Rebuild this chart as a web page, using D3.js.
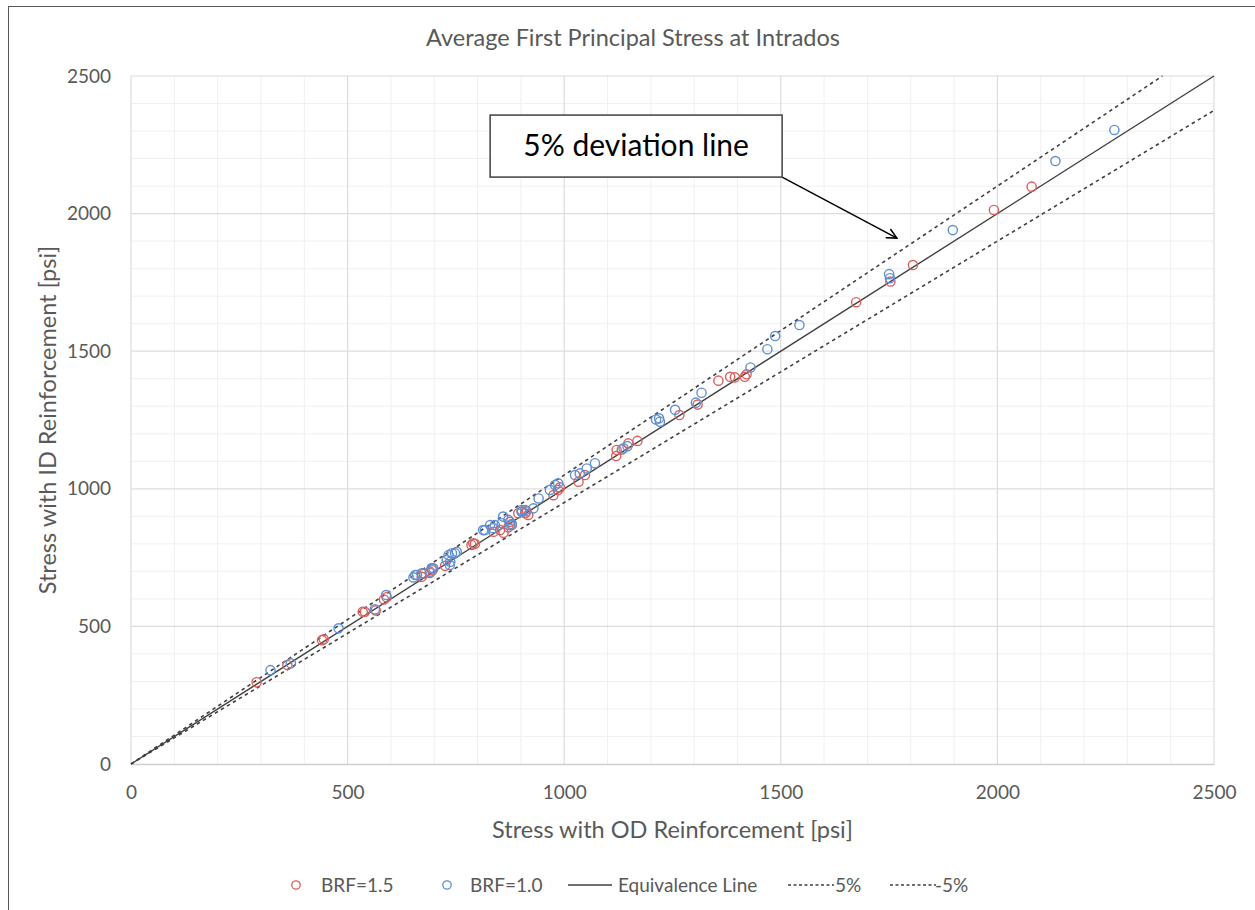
<!DOCTYPE html>
<html>
<head>
<meta charset="utf-8">
<script src="https://cdn.jsdelivr.net/npm/d3@7"></script>
<style>
  html, body { margin: 0; padding: 0; background: #fff; }
  svg { display: block; font-family: Lato, "Open Sans", sans-serif; }
</style>
</head>
<body>
<svg id="chart" width="1255" height="910"></svg>
<script>
// Average first principal stress at intrados: OD vs ID reinforcement [psi]
const chartTitle = "Average First Principal Stress at Intrados";
const xTitle = "Stress with OD Reinforcement [psi]";
const yTitle = "Stress with ID Reinforcement [psi]";
const tickValues = [0, 500, 1000, 1500, 2000, 2500];
const deviation = 0.05;

// [OD stress, ID stress] pairs, BRF = 1.5
const brf15 = [
  [290,297],[361,360],[441,450],[445,453],[535,553],[540,553],[565,558],[584,598],[590,606],
  [671,680],[676,692],[690,694],[696,704],[725,720],[786,796],[790,802],[794,800],[837,844],
  [852,850],[860,840],[871,860],[875,880],[879,868],[894,911],[902,917],[910,911],[913,918],
  [917,905],[975,977],[986,996],[990,1005],[1033,1026],[1048,1050],[1120,1119],[1121,1141],
  [1133,1143],[1148,1165],[1169,1174],[1266,1268],[1308,1306],[1356,1393],[1383,1407],
  [1394,1405],[1417,1407],[1421,1416],[1674,1678],[1753,1753],[1805,1813],[1992,2013],[2079,2098]
];

// [OD stress, ID stress] pairs, BRF = 1.0
const brf10 = [
  [322,341],[369,366],[479,493],[563,562],[589,614],[652,678],[656,687],[660,687],[671,693],
  [690,699],[694,711],[698,711],[729,741],[733,759],[737,735],[736,723],[741,766],[748,766],
  [752,771],[813,850],[817,850],[829,868],[836,857],[840,868],[856,875],[859,899],[871,887],
  [875,868],[879,872],[902,917],[902,923],[910,923],[929,929],[941,965],[967,996],[979,1014],
  [986,1020],[1025,1050],[1036,1056],[1052,1074],[1071,1093],[1137,1147],[1146,1155],
  [1212,1252],[1221,1244],[1219,1256],[1256,1287],[1304,1313],[1317,1349],[1430,1441],
  [1469,1507],[1487,1555],[1543,1595],[1750,1780],[1752,1765],[1897,1940],[2134,2191],[2270,2304]
];

const legendItems = ["BRF=1.5", "BRF=1.0", "Equivalence Line", "5%", "-5%"];

const RED = "#d9605c", BLUE = "#5e8fd3", INK = "#404040", LABEL = "#595959";

const svg = d3.select("#chart");
const plot = { left: 131, right: 1214, top: 76, bottom: 764 };

const x = d3.scaleLinear().domain([0, 2500]).range([plot.left, plot.right]);
const y = d3.scaleLinear().domain([0, 2500]).range([plot.bottom, plot.top]);

// outer frame
svg.append("rect").attr("x", 8.5).attr("y", 6.5).attr("width", 1260).attr("height", 930)
  .attr("fill", "none").attr("stroke", "#595959").attr("stroke-width", 1);

// minor and major grid
const minor = d3.range(100, 2501, 100).filter(v => v % 500 !== 0);
const grid = svg.append("g");
grid.selectAll(".vmin").data(minor).join("line")
  .attr("x1", d => x(d)).attr("x2", d => x(d)).attr("y1", plot.top).attr("y2", plot.bottom)
  .attr("stroke", "#f0f0f0").attr("stroke-width", 1);
grid.selectAll(".hmin").data(minor).join("line")
  .attr("y1", d => y(d)).attr("y2", d => y(d)).attr("x1", plot.left).attr("x2", plot.right)
  .attr("stroke", "#f0f0f0").attr("stroke-width", 1);
grid.selectAll(".vmaj").data(tickValues).join("line")
  .attr("x1", d => x(d)).attr("x2", d => x(d)).attr("y1", plot.top).attr("y2", plot.bottom)
  .attr("stroke", "#dcdcdc").attr("stroke-width", 1.2);
grid.selectAll(".hmaj").data(tickValues.slice(1)).join("line")
  .attr("y1", d => y(d)).attr("y2", d => y(d)).attr("x1", plot.left).attr("x2", plot.right)
  .attr("stroke", "#dcdcdc").attr("stroke-width", 1.2);

// axes
const xAxis = svg.append("g").attr("transform", `translate(0,${plot.bottom})`)
  .call(d3.axisBottom(x).tickValues(tickValues).tickSize(0).tickPadding(22).tickFormat(d3.format("d")));
const yAxis = svg.append("g").attr("transform", `translate(${plot.left},0)`)
  .call(d3.axisLeft(y).tickValues(tickValues).tickSize(0).tickPadding(20).tickFormat(d3.format("d")));
xAxis.select(".domain").attr("stroke", "#d0d0d0").attr("stroke-width", 1.5);
yAxis.select(".domain").remove();
svg.selectAll(".tick text").attr("fill", LABEL).attr("font-size", 19).attr("font-family", "Lato, sans-serif");

// reference lines
const line = d3.line().x(d => x(d[0])).y(d => y(d[1]));
svg.append("path").datum([[0, 0], [2500, 2500]]).attr("d", line)
  .attr("fill", "none").attr("stroke", INK).attr("stroke-width", 1.4);
svg.append("path").datum([[0, 0], [2500 / (1 + deviation), 2500]]).attr("d", line)
  .attr("fill", "none").attr("stroke", INK).attr("stroke-width", 1.6).attr("stroke-dasharray", "3.5,3.5");
svg.append("path").datum([[0, 0], [2500, 2500 * (1 - deviation)]]).attr("d", line)
  .attr("fill", "none").attr("stroke", INK).attr("stroke-width", 1.6).attr("stroke-dasharray", "3.5,3.5");

// scatter markers
function markers(data, color) {
  svg.append("g").selectAll("circle").data(data).join("circle")
    .attr("cx", d => x(d[0])).attr("cy", d => y(d[1])).attr("r", 4.6)
    .attr("fill", "none").attr("stroke", color).attr("stroke-width", 1.4);
}
markers(brf15, RED);
markers(brf10, BLUE);

// callout box with arrow
const defs = svg.append("defs");
defs.append("marker").attr("id", "openArrow").attr("viewBox", "0 0 12 12")
  .attr("refX", 11).attr("refY", 6).attr("markerWidth", 12).attr("markerHeight", 12)
  .attr("markerUnits", "userSpaceOnUse").attr("orient", "auto")
  .append("path").attr("d", "M1,1 L11,6 L1,11").attr("fill", "none")
  .attr("stroke", "#000").attr("stroke-width", 1.5);

const boxX = x(829), boxY = y(2358), boxW = 292, boxH = 62;
svg.append("line").attr("x1", boxX + boxW).attr("y1", boxY + boxH)
  .attr("x2", x(1768)).attr("y2", y(1911))
  .attr("stroke", "#000").attr("stroke-width", 1.5).attr("marker-end", "url(#openArrow)");
svg.append("rect").attr("x", boxX).attr("y", boxY).attr("width", boxW).attr("height", boxH)
  .attr("fill", "#fff").attr("stroke", INK).attr("stroke-width", 1.5);
svg.append("text").attr("x", boxX + boxW / 2).attr("y", boxY + 41).attr("text-anchor", "middle")
  .attr("font-size", 30).attr("fill", "#000").text("5% deviation line");

// titles
svg.append("text").attr("x", 633).attr("y", 46).attr("text-anchor", "middle")
  .attr("font-size", 23.5).attr("fill", LABEL).text(chartTitle);
svg.append("text").attr("x", (plot.left + plot.right) / 2).attr("y", 838).attr("text-anchor", "middle")
  .attr("font-size", 23.5).attr("fill", LABEL).text(xTitle);
svg.append("text").attr("transform", `translate(56,${(plot.top + plot.bottom) / 2}) rotate(-90)`)
  .attr("text-anchor", "middle").attr("font-size", 23.5).attr("fill", LABEL).text(yTitle);

// legend
const lg = svg.append("g").attr("font-size", 19).attr("fill", LABEL);
const ly = 885;
lg.append("circle").attr("cx", 296).attr("cy", ly).attr("r", 4.2).attr("fill", "none").attr("stroke", RED).attr("stroke-width", 1.3);
lg.append("text").attr("x", 321).attr("y", ly + 7).text(legendItems[0]);
lg.append("circle").attr("cx", 447).attr("cy", ly).attr("r", 4.2).attr("fill", "none").attr("stroke", BLUE).attr("stroke-width", 1.3);
lg.append("text").attr("x", 470).attr("y", ly + 7).text(legendItems[1]);
lg.append("line").attr("x1", 568).attr("x2", 612).attr("y1", ly).attr("y2", ly).attr("stroke", INK).attr("stroke-width", 1.4);
lg.append("text").attr("x", 618).attr("y", ly + 7).text(legendItems[2]);
lg.append("line").attr("x1", 788).attr("x2", 834).attr("y1", ly).attr("y2", ly).attr("stroke", INK).attr("stroke-width", 1.4).attr("stroke-dasharray", "3,2.5");
lg.append("text").attr("x", 835).attr("y", ly + 7).text(legendItems[3]);
lg.append("line").attr("x1", 890).attr("x2", 936).attr("y1", ly).attr("y2", ly).attr("stroke", INK).attr("stroke-width", 1.4).attr("stroke-dasharray", "3,2.5");
lg.append("text").attr("x", 935).attr("y", ly + 7).text(legendItems[4]);
</script>
</body>
</html>
